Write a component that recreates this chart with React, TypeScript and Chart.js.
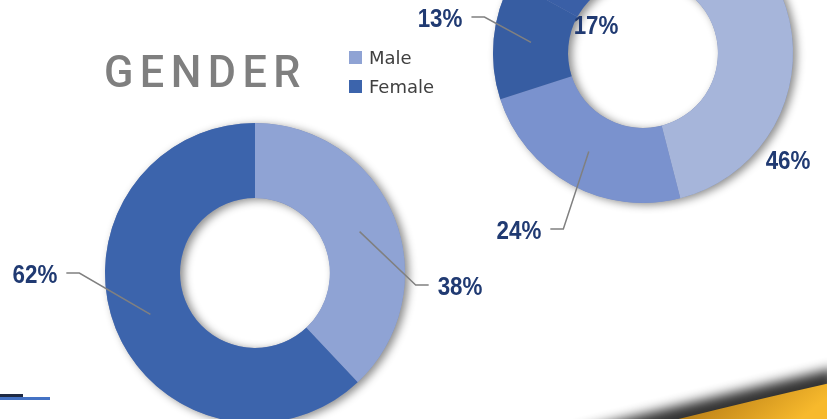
import React, { useEffect, useRef } from "react";
import { Chart, registerables } from "chart.js";
Chart.register(...registerables);

// ---- data ----
const titleText = "GENDER";
const genderLabels = ["Male", "Female"];
const genderValues = [38, 62];
const genderColors = ["#8FA3D4", "#3C64AC"];

const otherLabels = ["Group 1", "Group 2", "Group 3", "Group 4"];
const otherValues = [46, 24, 13, 17];
const otherColors = ["#A6B5DA", "#7A92CE", "#375DA2", "#3A5FA6"];

// ---- label placement (relative to chart centre, in outer-radius units) ----
const genderLabelPos = [
  { dx: 1.367, dy: 0.087, leader: true },
  { dx: -1.467, dy: 0.007, leader: true },
];
const otherLabelPos = [
  { dx: 0.967, dy: 0.713, leader: false },
  { dx: -0.827, dy: 1.18, leader: true },
  { dx: -1.353, dy: -0.233, leader: true },
  { dx: -0.313, dy: -0.187, leader: false },
];

const LABEL_FONT_SIZE = 26;
const LABEL_SCALE_X = 0.86;
const LABEL_FONT = `bold ${LABEL_FONT_SIZE}px "Liberation Sans", Arial, sans-serif`;
const LABEL_COLOR = "#203A72";
const LEADER_COLOR = "#808080";

function makeRingPlugin(pos: { dx: number; dy: number; leader: boolean }[]) {
  return {
    id: "ringDecor",
    beforeDatasetsDraw(chart: any) {
      const ctx = chart.ctx;
      const arc = chart.getDatasetMeta(0).data[0];
      const { x, y, outerRadius, innerRadius } = arc.getProps(
        ["x", "y", "outerRadius", "innerRadius"],
        true
      );
      ctx.save();
      ctx.shadowColor = "rgba(0,0,0,0.45)";
      ctx.shadowBlur = 9;
      ctx.shadowOffsetX = 4;
      ctx.shadowOffsetY = 2;
      ctx.beginPath();
      ctx.arc(x, y, outerRadius, 0, Math.PI * 2);
      ctx.arc(x, y, innerRadius, 0, Math.PI * 2, true);
      ctx.fillStyle = "#7f8fb8";
      ctx.fill("evenodd");
      ctx.restore();
    },
    afterDatasetsDraw(chart: any) {
      const ctx = chart.ctx;
      const meta = chart.getDatasetMeta(0);
      const values = chart.data.datasets[0].data as number[];
      meta.data.forEach((el: any, i: number) => {
        const { x, y, startAngle, endAngle, outerRadius, innerRadius } = el.getProps(
          ["x", "y", "startAngle", "endAngle", "outerRadius", "innerRadius"],
          true
        );
        const p = pos[i];
        if (!p) return;
        const mid = (startAngle + endAngle) / 2;
        const rm = (outerRadius + innerRadius) / 2;
        const px = x + rm * Math.cos(mid);
        const py = y + rm * Math.sin(mid);
        const lx = x + p.dx * outerRadius;
        const ly = y + p.dy * outerRadius;
        const text = `${values[i]}%`;
        ctx.save();
        ctx.font = LABEL_FONT;
        const w = ctx.measureText(text).width * LABEL_SCALE_X;
        if (p.leader) {
          const side = lx < x ? 1 : -1;
          const sx = lx + side * (w / 2 + 9);
          const ex = sx + side * 13;
          const yy = ly - 1;
          ctx.beginPath();
          ctx.moveTo(sx, yy);
          ctx.lineTo(ex, yy);
          ctx.lineTo(px, py);
          ctx.strokeStyle = LEADER_COLOR;
          ctx.lineWidth = 1.5;
          ctx.stroke();
        }
        ctx.fillStyle = LABEL_COLOR;
        ctx.textAlign = "center";
        ctx.textBaseline = "alphabetic";
        ctx.translate(lx, ly + (LABEL_FONT_SIZE * 0.716) / 2);
        ctx.scale(LABEL_SCALE_X, 1);
        ctx.fillText(text, 0, 0);
        ctx.restore();
      });
    },
  };
}

function Donut(props: {
  labels: string[];
  values: number[];
  colors: string[];
  pos: { dx: number; dy: number; leader: boolean }[];
  left: number;
  top: number;
}) {
  const ref = useRef<HTMLCanvasElement | null>(null);
  useEffect(() => {
    if (!ref.current) return;
    const chart = new Chart(ref.current, {
      type: "doughnut",
      data: {
        labels: props.labels,
        datasets: [
          {
            data: props.values,
            backgroundColor: props.colors,
            borderWidth: 0,
          },
        ],
      },
      options: {
        animation: false,
        responsive: false,
        cutout: "50%",
        layout: { padding: 150 },
        plugins: {
          legend: { display: false },
          tooltip: { enabled: false },
        },
      },
      plugins: [makeRingPlugin(props.pos)],
    } as any);
    return () => chart.destroy();
  }, []);
  return (
    <canvas
      ref={ref}
      width={600}
      height={600}
      style={{ position: "absolute", left: props.left, top: props.top, width: 600, height: 600 }}
    />
  );
}

export default function App() {
  return (
    <div
      style={{
        position: "fixed",
        left: 0,
        top: 0,
        width: 827,
        height: 419,
        overflow: "hidden",
        background: "#ffffff",
      }}
    >
      <Donut labels={otherLabels} values={otherValues} colors={otherColors} pos={otherLabelPos} left={343} top={-247} />
      <Donut labels={genderLabels} values={genderValues} colors={genderColors} pos={genderLabelPos} left={-45} top={-27} />

      <div
        style={{
          position: "absolute",
          left: 104,
          top: 49,
          fontFamily: "Roboto, sans-serif",
          fontWeight: 500,
          fontSize: 45,
          lineHeight: 1,
          letterSpacing: 6.7,
          color: "#7F7F7F",
          whiteSpace: "nowrap",
          transform: "scaleX(0.96)",
          transformOrigin: "left top",
        }}
      >
        {titleText}
      </div>

      {genderLabels.map((l, i) => (
        <div
          key={l}
          style={{
            position: "absolute",
            left: 349,
            top: 49 + i * 29,
            display: "flex",
            alignItems: "flex-start",
            whiteSpace: "nowrap",
          }}
        >
          <div style={{ width: 13, height: 13, marginTop: 2, background: genderColors[i] }} />
          <div
            style={{
              marginLeft: 7,
              fontFamily: '"DejaVu Sans", sans-serif',
              fontSize: 18,
              lineHeight: 1,
              color: "#404040",
            }}
          >
            {l}
          </div>
        </div>
      ))}

      {/* slide decorations */}
      <div style={{ position: "absolute", left: 0, top: 394, width: 23, height: 3, background: "#1F2A44" }} />
      <div style={{ position: "absolute", left: 0, top: 397, width: 50, height: 3, background: "#4472C4" }} />
      <svg width={827} height={419} style={{ position: "absolute", left: 0, top: 0 }}>
        <defs>
          <filter id="blur" x="-20%" y="-50%" width="140%" height="200%">
            <feGaussianBlur stdDeviation="6" />
          </filter>
          <linearGradient id="gold" x1="0" y1="0" x2="1" y2="0.3">
            <stop offset="0" stopColor="#8A5E10" />
            <stop offset="0.5" stopColor="#C98D1C" />
            <stop offset="1" stopColor="#F7B92C" />
          </linearGradient>
        </defs>
        <path d="M 570 432 Q 700 400 835 368 L 835 432 Z" fill="#000" opacity="0.8" filter="url(#blur)" />
        <path d="M 655 425 Q 745 402 830 383 L 830 425 Z" fill="url(#gold)" />
      </svg>
    </div>
  );
}
